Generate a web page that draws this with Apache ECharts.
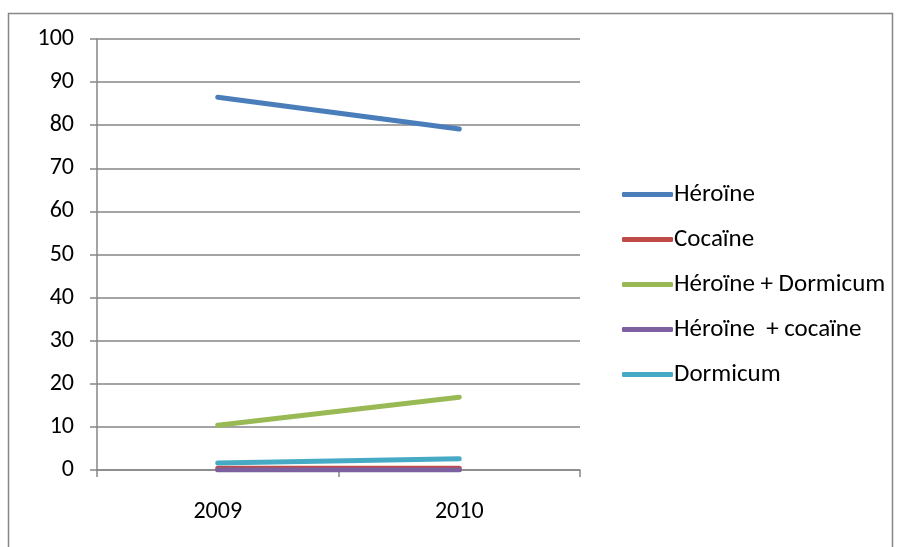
<!DOCTYPE html>
<html>
<head>
<meta charset="utf-8">
<script src="https://cdn.jsdelivr.net/npm/echarts@6/dist/echarts.min.js"></script>
<style>
  html, body { margin: 0; padding: 0; background: #fff; }
  #chart { width: 897px; height: 547px; }
</style>
</head>
<body>
<div id="chart"></div>
<script>
const years = ['2009', '2010'];
const heroine = [86.5, 79.1];
const cocaine = [0.4, 0.4];
const heroineDormicum = [10.4, 16.9];
const heroineCocaine = [0.0, 0.0];
const dormicum = [1.6, 2.6];

const font = 'Carlito, "Liberation Sans", "Open Sans", sans-serif';

const seriesDefs = [
  { name: 'Héroïne', data: heroine, color: '#4A7EBB' },
  { name: 'Cocaïne', data: cocaine, color: '#BE4B48' },
  { name: 'Héroïne + Dormicum', data: heroineDormicum, color: '#98B954' },
  { name: 'Héroïne  + cocaïne', data: heroineCocaine, color: '#7D60A0' },
  { name: 'Dormicum', data: dormicum, color: '#46AAC5' }
];

const myChart = echarts.init(document.getElementById('chart'));

const option = {
  animation: false,
  textStyle: { fontFamily: font },
  graphic: [{
    type: 'rect',
    shape: { x: 8.5, y: 13.5, width: 884, height: 560 },
    style: { fill: 'none', stroke: '#868686', lineWidth: 1.5 }
  }],
  grid: { left: 97, right: 317, top: 39, bottom: 77 },
  legend: {
    orient: 'vertical',
    left: 617,
    top: 177,
    itemWidth: 51,
    itemHeight: 5,
    itemGap: 20,
    icon: 'roundRect',
    textStyle: { fontSize: 25, lineHeight: 25, color: '#000', fontFamily: font, padding: [0, 0, 0, -4] },
    data: seriesDefs.map(s => s.name)
  },
  xAxis: {
    type: 'category',
    data: years,
    boundaryGap: true,
    axisLine: { lineStyle: { color: '#868686', width: 1.5 } },
    axisTick: { show: true, length: 7, lineStyle: { color: '#868686', width: 1.5 } },
    axisLabel: { color: '#000', fontSize: 24, margin: 30, fontFamily: font }
  },
  yAxis: {
    type: 'value',
    min: 0,
    max: 100,
    interval: 10,
    axisLine: { show: true, lineStyle: { color: '#868686', width: 1.5 } },
    axisTick: { show: true, length: 7, lineStyle: { color: '#868686', width: 1.5 } },
    splitLine: { lineStyle: { color: '#868686', width: 1.5 } },
    axisLabel: { color: '#000', fontSize: 24, margin: 23, fontFamily: font }
  },
  series: seriesDefs.map(s => ({
    name: s.name,
    type: 'line',
    data: s.data,
    symbol: 'none',
    color: s.color,
    lineStyle: { width: 5, color: s.color, cap: 'round' }
  }))
};

myChart.setOption(option);
</script>
</body>
</html>
